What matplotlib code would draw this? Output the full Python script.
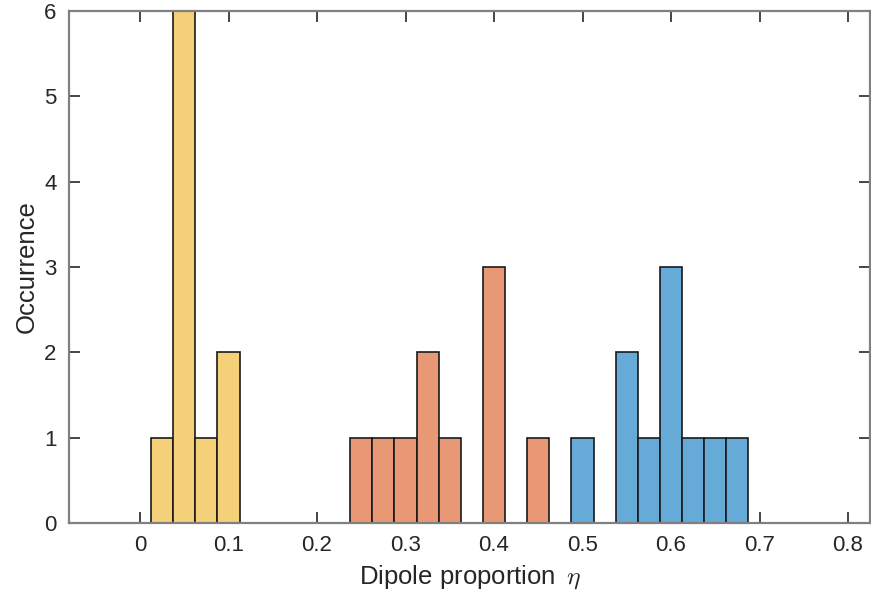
import matplotlib
matplotlib.use("Agg")
import matplotlib.pyplot as plt

plt.rcParams['font.family'] = ['Liberation Sans', 'DejaVu Sans']
plt.rcParams['mathtext.fontset'] = 'cm'

bin_width = 0.025
yellow_centers = [0.025, 0.05, 0.075, 0.1]
yellow_counts = [1, 6, 1, 2]
orange_centers = [0.25, 0.275, 0.3, 0.325, 0.35, 0.4, 0.45]
orange_counts = [1, 1, 1, 2, 1, 3, 1]
blue_centers = [0.5, 0.55, 0.575, 0.6, 0.625, 0.65, 0.675]
blue_counts = [1, 2, 1, 3, 1, 1, 1]

x_ticks = [0, 0.1, 0.2, 0.3, 0.4, 0.5, 0.6, 0.7, 0.8]
x_tick_labels = ['0', '0.1', '0.2', '0.3', '0.4', '0.5', '0.6', '0.7', '0.8']
y_ticks = [0, 1, 2, 3, 4, 5, 6]

fig = plt.figure(figsize=(8.71, 6.03), dpi=100)
ax = fig.add_axes([0.0795, 0.1327, 0.9195, 0.8491])

ax.bar(yellow_centers, yellow_counts, width=bin_width, color='#F4D079',
       edgecolor='#1a1a1a', linewidth=1.2, zorder=2)
ax.bar(orange_centers, orange_counts, width=bin_width, color='#E89875',
       edgecolor='#1a1a1a', linewidth=1.2, zorder=2)
ax.bar(blue_centers, blue_counts, width=bin_width, color='#66AAD7',
       edgecolor='#1a1a1a', linewidth=1.2, zorder=2)

ax.set_xlim(-0.08, 0.825)
ax.set_ylim(0, 6)
ax.set_xticks(x_ticks)
ax.set_xticklabels(x_tick_labels)
ax.set_yticks(y_ticks)

for s in ax.spines.values():
    s.set_color('#808080')
    s.set_linewidth(1.6)
    s.set_zorder(3)

ax.tick_params(axis='both', direction='in', length=8, width=1.2,
               color='#262626', labelsize=16, labelcolor='#262626',
               top=True, right=True, pad=9)

ax.set_xlabel(r'Dipole proportion $\,\eta$', fontsize=18.5, color='#262626', labelpad=5)
ax.set_ylabel('Occurrence', fontsize=18.5, color='#262626', labelpad=4)

fig.savefig('out.png', dpi=100)
